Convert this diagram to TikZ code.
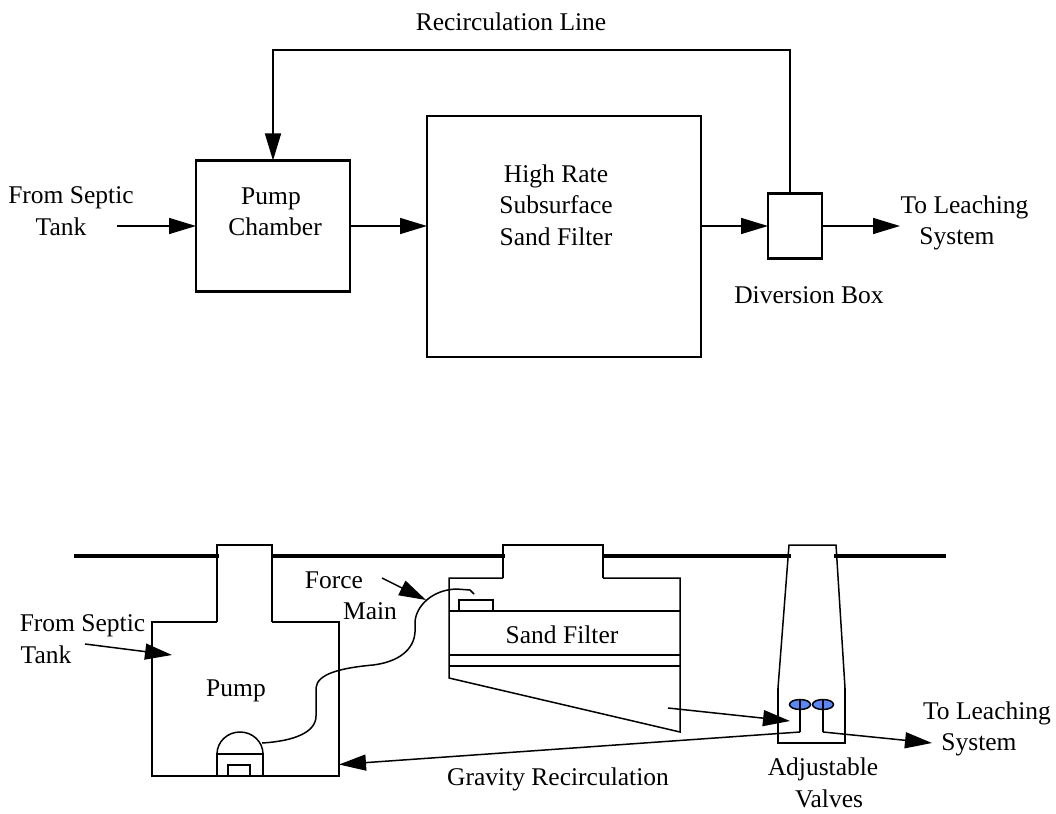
\documentclass[tikz,border=0pt]{standalone}
\usepackage{fontspec}
\setmainfont{Liberation Serif}
\usepackage{xcolor}
\usetikzlibrary{shapes.geometric, arrows.meta}
\definecolor{valveblue}{RGB}{90,135,245}
\tikzset{
    blockbox/.style={draw=black, line width=2.2pt, outer sep=0pt, inner sep=0pt},
    labeltext/.style={align=center, inner sep=0pt, font=\fontsize{25.5}{31.5}\selectfont},
    flowarrow/.style={line width=1.5pt, -{Triangle[length=27pt,width=16pt]}},
    wallline/.style={line width=1.5pt, line cap=square},
    groundline/.style={line width=3.2pt},
    valvedisc/.style={draw=black, line width=1.5pt, fill=valveblue, ellipse, minimum width=21pt, minimum height=10pt, inner sep=0pt}
}

\begin{document}
\begin{tikzpicture}[x=1pt, y=-1pt]
    \useasboundingbox (0,0) rectangle (1056,813);

    % Block diagram
    \node[blockbox, minimum width=154pt, minimum height=131pt] (pumpbox) at (273,226) {};
    \node[blockbox, minimum width=274pt, minimum height=241pt] (filterbox) at (564,236.5) {};
    \node[blockbox, minimum width=54pt, minimum height=65pt] (divbox) at (795,226) {};
    \coordinate (septicin) at (117,226);
    \coordinate (leachout) at (900,226);
    \coordinate (recircleft) at (273,50);

    \node[labeltext] (pumplabel) at (275,212) {\hspace*{-8pt}Pump\\Chamber};
    \node[labeltext] (filterlabel) at (556,205) {High Rate\\Subsurface\\Sand Filter};
    \node[labeltext] (recirclabel) at (511,22) {Recirculation Line};
    \node[labeltext] (septiclabel) at (71,211) {From Septic\\\hspace*{-20pt}Tank};
    \node[labeltext] (leachlabel) at (964.5,223) {To Leaching\\\hspace*{-15pt}System};
    \node[labeltext] (divlabel) at (809,295) {Diversion Box};

    \draw[flowarrow] (septicin) -- (pumpbox.west);
    \draw[flowarrow] (pumpbox.east) -- (filterbox.west |- pumpbox.east);
    \draw[flowarrow] (filterbox.east |- pumpbox.east) -- (divbox.west);
    \draw[flowarrow] (divbox.east) -- (leachout);
    \draw[flowarrow] ([xshift=-5pt]divbox.north) |- (recircleft) -- (pumpbox.north);

    % Ground
    \draw[groundline] (74,556) -- (219,556);
    \draw[groundline] (272,556) -- (505,556);
    \draw[groundline] (603,556) -- (791,556);
    \draw[groundline] (834,556) -- (946,556);

    % Pump chamber
    \draw[wallline] (217,622) -- (217,545) -- (272,545) -- (272,622);
    \draw[wallline] (217,622) -- (152,622) -- (152,776) -- (339,776) -- (339,622) -- (272,622);
    \draw[wallline] (217,776) -- (217,754) -- (263,754) -- (263,776);
    \draw[wallline] (217,754) arc[start angle=180, end angle=0, x radius=23pt, y radius=22pt];
    \draw[wallline] (228,776) -- (228,765) -- (250,765) -- (250,776);

    % Sand filter
    \draw[wallline] (503,578) -- (503,545) -- (603,545) -- (603,578);
    \draw[wallline] (503,578) -- (449,578) -- (449,678) -- (680,732) -- (680,578) -- (603,578);
    \draw[wallline] (449,611) -- (680,611);
    \draw[wallline] (449,655) -- (680,655);
    \draw[wallline] (449,666) -- (680,666);
    \draw[wallline] (459,611) -- (459,600) -- (493,600) -- (493,611);

    % Diversion box
    \draw[wallline] (778,688) -- (789,545) -- (836,545) -- (845,688);
    \draw[wallline] (778,688) -- (778,743) -- (845,743) -- (845,688);
    \node[valvedisc] (valveleft) at (800,704.5) {};
    \node[valvedisc] (valveright) at (823,704.5) {};
    \coordinate (valveleftend) at (800,732);
    \coordinate (valverightend) at (823,732);
    \draw[line width=1.5pt] (valveleft.north) -- (valveleftend);
    \draw[line width=1.5pt] (valveright.north) -- (valverightend);

    % Force main
    \coordinate (forcefoot) at (262,743);
    \coordinate (forcetop) at (474,594);
    \draw[line width=1.5pt] (forcefoot) .. controls (295,741) and (316,732) .. (316,716)
        -- (316,688) .. controls (317,674) and (340,668) .. (373,665)
        .. controls (398,662) and (414,650) .. (415,632)
        -- (415,622) .. controls (416,606) and (432,590) .. (456,589)
        -- (470,590) -- (forcetop);

    % Flow arrows
    \coordinate (septicstart) at (85,644);
    \coordinate (septicend) at (172,655);
    \coordinate (forcestart) at (382,578);
    \coordinate (forceend) at (426,600);
    \coordinate (filterstart) at (668,708);
    \coordinate (filterend) at (790,721);
    \coordinate (leachend) at (932,743);
    \coordinate (pumpwall) at (339,764.5);
    \draw[flowarrow] (septicstart) -- (septicend);
    \draw[flowarrow] (forcestart) -- (forceend);
    \draw[flowarrow] (filterstart) -- (filterend);
    \draw[flowarrow] (valverightend) -- (leachend);
    \draw[flowarrow] (valveleftend) -- (pumpwall);

    % Labels
    \node[labeltext] (pumpname) at (236,691) {Pump};
    \node[labeltext] (forcelabel) at (334,596) {Force\\\hspace*{72pt}Main};
    \node[labeltext] (sandlabel) at (562,635) {Sand Filter};
    \node[labeltext] (gravlabel) at (558,779) {Gravity Recirculation};
    \node[labeltext] (valvelabel) at (823,783) {Adjustable\\\hspace*{12pt}Valves};
    \node[labeltext] (septiclower) at (82.5,639) {From Septic\\\hspace*{-73pt}Tank};
    \node[labeltext] (leachlower) at (987,729) {To Leaching\\\hspace*{-16pt}System};
\end{tikzpicture}
\end{document}
